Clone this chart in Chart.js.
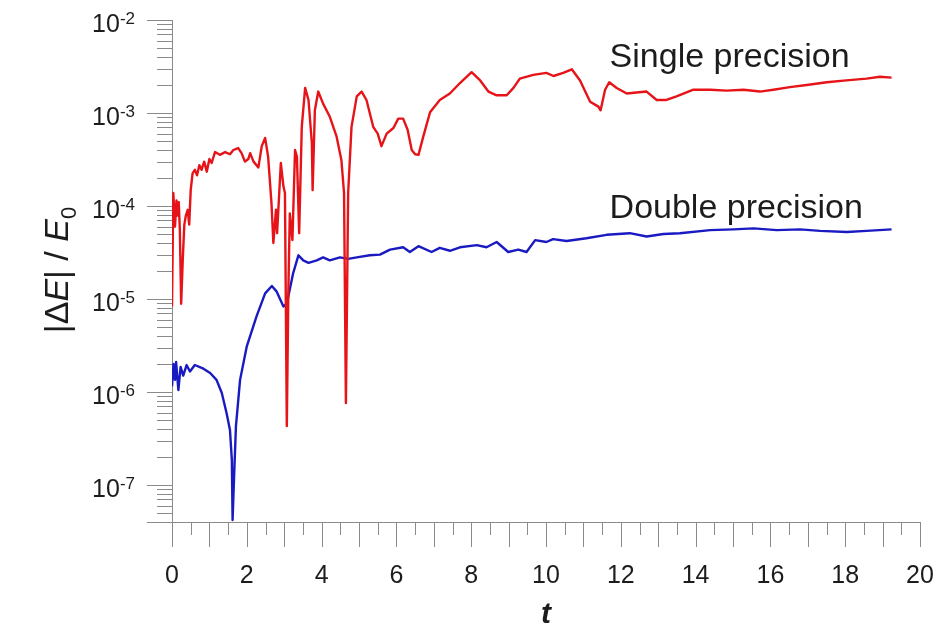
<!DOCTYPE html>
<html>
<head>
<meta charset="utf-8">
<script src="https://cdn.jsdelivr.net/npm/chart.js@4/dist/chart.umd.min.js"></script>
<style>
  html, body { margin: 0; padding: 0; background: #fff; }
  #chartArea { width: 935px; height: 623px; }
</style>
</head>
<body>
<div id="chartArea"><canvas id="myChart" width="935" height="623"></canvas></div>
<script>
// energy error |dE|/E0 against time t
const tSingle = [0, 0.035, 0.08, 0.12, 0.15, 0.18, 0.21, 0.245, 0.29, 0.33, 0.37, 0.42, 0.46, 0.5, 0.55,
  0.61, 0.67, 0.73, 0.79, 0.86, 0.93, 1.0, 1.06, 1.15, 1.28, 1.42, 1.55, 1.64, 1.77, 1.86, 1.95, 2.04,
  2.09, 2.18, 2.31, 2.4, 2.49, 2.57, 2.66, 2.71, 2.78, 2.81, 2.91, 2.98, 3.02, 3.07, 3.11, 3.15, 3.22,
  3.29, 3.34, 3.4, 3.47, 3.56, 3.65, 3.74, 3.76, 3.82, 3.91, 4.04, 4.22, 4.4, 4.53, 4.6, 4.65, 4.71,
  4.8, 4.94, 5.07, 5.2, 5.38, 5.5, 5.6, 5.74, 5.92, 6.05, 6.18, 6.3, 6.41, 6.5, 6.59, 6.72, 6.9, 7.16,
  7.43, 7.7, 8.01, 8.24, 8.46, 8.68, 8.95, 9.13, 9.3, 9.66, 10.01, 10.2, 10.46, 10.69, 10.91, 11.18,
  11.4, 11.46, 11.58, 11.69, 11.89, 12.16, 12.42, 12.69, 12.96, 13.22, 13.49, 13.94, 14.39, 14.83,
  15.28, 15.72, 16.08, 16.52, 16.97, 17.51, 18.03, 18.57, 18.93, 19.24];
const eSingle = [8.3e-6, 1.38e-4, 6.0e-5, 1.15e-4, 7.9e-5, 1.1e-4, 5.5e-5, 8.9e-6, 2.8e-5, 6.3e-5, 7.9e-5,
  9.1e-5, 6.3e-5, 1.48e-4, 2.24e-4, 2.45e-4, 2.14e-4, 2.75e-4, 2.45e-4, 3.0e-4, 2.34e-4, 3.2e-4, 2.9e-4,
  3.8e-4, 3.55e-4, 3.8e-4, 3.6e-4, 4.0e-4, 4.2e-4, 3.7e-4, 3.0e-4, 3.2e-4, 3.7e-4, 3.0e-4, 2.6e-4, 4.4e-4,
  5.4e-4, 3.4e-4, 1.07e-4, 4.0e-5, 9.1e-5, 5.1e-5, 2.9e-4, 1.62e-4, 1.38e-4, 4.3e-7, 1.15e-5, 8.3e-5,
  4.3e-5, 4.0e-4, 3.4e-4, 5.1e-5, 7.1e-4, 1.86e-3, 1.38e-3, 4.7e-4, 1.48e-4, 1.07e-3, 1.7e-3, 1.26e-3,
  9.1e-4, 5.6e-4, 3.1e-4, 1.38e-4, 7.6e-7, 1.38e-4, 7.1e-4, 1.51e-3, 1.7e-3, 1.38e-3, 7.1e-4, 6.0e-4,
  4.4e-4, 6.0e-4, 6.9e-4, 8.7e-4, 8.7e-4, 6.6e-4, 4.0e-4, 3.6e-4, 3.55e-4, 5.6e-4, 1.02e-3, 1.38e-3,
  1.62e-3, 2.1e-3, 2.75e-3, 2.24e-3, 1.7e-3, 1.55e-3, 1.55e-3, 1.86e-3, 2.34e-3, 2.57e-3, 2.7e-3, 2.5e-3,
  2.7e-3, 2.95e-3, 2.24e-3, 1.32e-3, 1.17e-3, 1.07e-3, 1.78e-3, 2.14e-3, 1.86e-3, 1.62e-3, 1.66e-3,
  1.7e-3, 1.38e-3, 1.38e-3, 1.51e-3, 1.78e-3, 1.78e-3, 1.74e-3, 1.78e-3, 1.7e-3, 1.78e-3, 1.9e-3, 2.0e-3,
  2.14e-3, 2.24e-3, 2.34e-3, 2.45e-3, 2.4e-3];

const tDouble = [0, 0.04, 0.08, 0.11, 0.17, 0.23, 0.3, 0.39, 0.48, 0.61, 0.84, 1.02, 1.19, 1.33, 1.46,
  1.55, 1.6, 1.62, 1.66, 1.71, 1.82, 2.0, 2.26, 2.49, 2.67, 2.8, 2.98, 3.07, 3.24, 3.38, 3.51, 3.65,
  3.87, 4.04, 4.22, 4.49, 4.71, 4.94, 5.29, 5.56, 5.83, 6.18, 6.36, 6.59, 6.94, 7.16, 7.43, 7.7, 8.15,
  8.41, 8.68, 8.99, 9.26, 9.48, 9.71, 10.01, 10.19, 10.55, 11.08, 11.62, 12.24, 12.69, 13.14, 13.58,
  14.39, 15.01, 15.55, 16.17, 16.79, 17.33, 18.04, 18.57, 19.24];
const eDouble = [1.15e-6, 2.0e-6, 1.35e-6, 2.1e-6, 1.05e-6, 1.86e-6, 1.5e-6, 1.95e-6, 1.66e-6, 1.95e-6,
  1.78e-6, 1.6e-6, 1.35e-6, 9.8e-7, 5.9e-7, 3.9e-7, 1.86e-7, 4.2e-8, 1.23e-7, 4.3e-7, 1.35e-6, 3.1e-6,
  6.5e-6, 1.15e-5, 1.38e-5, 1.2e-5, 8.3e-6, 8.9e-6, 1.9e-5, 2.95e-5, 2.6e-5, 2.45e-5, 2.6e-5, 2.8e-5,
  2.6e-5, 2.8e-5, 2.7e-5, 2.8e-5, 2.95e-5, 3.0e-5, 3.4e-5, 3.6e-5, 3.2e-5, 3.7e-5, 3.2e-5, 3.55e-5,
  3.3e-5, 3.6e-5, 3.8e-5, 3.6e-5, 4.1e-5, 3.2e-5, 3.4e-5, 3.2e-5, 4.3e-5, 4.1e-5, 4.4e-5, 4.2e-5,
  4.5e-5, 4.9e-5, 5.1e-5, 4.7e-5, 5.0e-5, 5.1e-5, 5.5e-5, 5.6e-5, 5.75e-5, 5.5e-5, 5.6e-5, 5.4e-5,
  5.25e-5, 5.4e-5, 5.6e-5];

// axis labels
const xTicks = [0, 2, 4, 6, 8, 10, 12, 14, 16, 18, 20];
const yDecades = [-2, -3, -4, -5, -6, -7];
const seriesNames = ['Single precision', 'Double precision'];

const FONT = '"Liberation Sans", Arial, sans-serif';
const AXIS_COLOR = '#8a8a8a';
const TEXT_COLOR = '#1c1c1c';

function toPoints(ts, es) {
  return ts.map((t, i) => ({ x: t, y: es[i] }));
}

// tick marks, tick labels, axis titles and curve labels
const axesPlugin = {
  id: 'axesPlugin',
  afterDraw(chart) {
    const ctx = chart.ctx;
    const xs = chart.scales.x;
    const ys = chart.scales.y;
    const left = chart.chartArea.left;
    const bottom = chart.chartArea.bottom;

    ctx.save();
    ctx.strokeStyle = AXIS_COLOR;
    ctx.lineWidth = 1;
    ctx.beginPath();

    // y ticks: long at decades, short at 2..9
    for (let p = -8; p <= -2; p++) {
      for (let m = 1; m <= 9; m++) {
        const v = m * Math.pow(10, p);
        if (v < ys.min * 0.999 || v > ys.max * 1.001) continue;
        const y = Math.round(ys.getPixelForValue(v)) + 0.5;
        const len = m === 1 ? 25 : 15;
        ctx.moveTo(left - len, y);
        ctx.lineTo(left, y);
      }
    }
    // bottom end of the y axis
    ctx.moveTo(left - 25, Math.round(bottom) + 0.5);
    ctx.lineTo(left, Math.round(bottom) + 0.5);

    // x ticks: long at integers, short at halves
    for (let i = 0; i <= 40; i++) {
      const t = i / 2;
      const x = Math.round(xs.getPixelForValue(t)) + 0.5;
      const len = i % 2 === 0 ? 25 : 13;
      ctx.moveTo(x, bottom);
      ctx.lineTo(x, bottom + len);
    }
    ctx.stroke();

    ctx.fillStyle = TEXT_COLOR;

    // y labels 10^n
    yDecades.forEach((p) => {
      const y = ys.getPixelForValue(Math.pow(10, p));
      const sup = '-' + Math.abs(p);
      ctx.font = '17px ' + FONT;
      ctx.textAlign = 'right';
      ctx.textBaseline = 'alphabetic';
      const supW = ctx.measureText(sup).width;
      const right = left - 37;
      ctx.fillText(sup, right, y + 4);
      ctx.font = '25px ' + FONT;
      ctx.fillText('10', right - supW, y + 12);
    });

    // x labels
    ctx.font = '25px ' + FONT;
    ctx.textAlign = 'center';
    xTicks.forEach((t) => {
      ctx.fillText(String(t), xs.getPixelForValue(t), bottom + 61);
    });

    // x title
    ctx.font = 'italic bold 30px ' + FONT;
    ctx.fillText('t', (xs.left + xs.right) / 2, 623);

    // y title |ΔE| / E0, rotated
    const parts = [
      { s: '|\u0394', f: '34px ' + FONT, dy: 0 },
      { s: 'E', f: 'italic 34px ' + FONT, dy: 0 },
      { s: '| / ', f: '34px ' + FONT, dy: 0 },
      { s: 'E', f: 'italic 34px ' + FONT, dy: 0 },
      { s: '0', f: '22px ' + FONT, dy: 8 },
    ];
    let w = 0;
    parts.forEach((pt) => {
      ctx.font = pt.f;
      pt.w = ctx.measureText(pt.s).width;
      w += pt.w;
    });
    ctx.translate(68, 270);
    ctx.rotate(-Math.PI / 2);
    ctx.textAlign = 'left';
    let px = -w / 2;
    parts.forEach((pt) => {
      ctx.font = pt.f;
      ctx.fillText(pt.s, px, pt.dy);
      px += pt.w;
    });
    ctx.setTransform(1, 0, 0, 1, 0, 0);

    // curve labels
    ctx.font = '34px ' + FONT;
    ctx.textAlign = 'left';
    ctx.fillText(seriesNames[0], xs.getPixelForValue(11.7), ys.getPixelForValue(3.1e-3));
    ctx.fillText(seriesNames[1], xs.getPixelForValue(11.7), ys.getPixelForValue(7.4e-5));
    ctx.restore();
  },
};

function createEpidemChart() {
  const ctx = document.getElementById('myChart').getContext('2d');
  return new Chart(ctx, {
    type: 'line',
    data: {
      datasets: [
        {
          label: seriesNames[0],
          data: toPoints(tSingle, eSingle),
          borderColor: '#e61419',
          borderWidth: 2.4,
          borderJoinStyle: 'round',
          pointRadius: 0,
          tension: 0,
          fill: false,
        },
        {
          label: seriesNames[1],
          data: toPoints(tDouble, eDouble),
          borderColor: '#1a1ac2',
          borderWidth: 2.4,
          borderJoinStyle: 'round',
          pointRadius: 0,
          tension: 0,
          fill: false,
        },
      ],
    },
    options: {
      responsive: false,
      animation: false,
      layout: { padding: { left: 172, right: 15, top: 20, bottom: 101 } },
      plugins: { legend: { display: false }, tooltip: { enabled: false } },
      scales: {
        x: {
          type: 'linear',
          min: 0,
          max: 20,
          ticks: { display: false },
          grid: { display: false, drawTicks: false },
          border: { display: true, color: AXIS_COLOR, width: 1 },
        },
        y: {
          type: 'logarithmic',
          min: 4e-8,
          max: 1e-2,
          ticks: { display: false },
          grid: { display: false, drawTicks: false },
          border: { display: true, color: AXIS_COLOR, width: 1 },
        },
      },
    },
    plugins: [axesPlugin],
  });
}

createEpidemChart();
</script>
</body>
</html>
